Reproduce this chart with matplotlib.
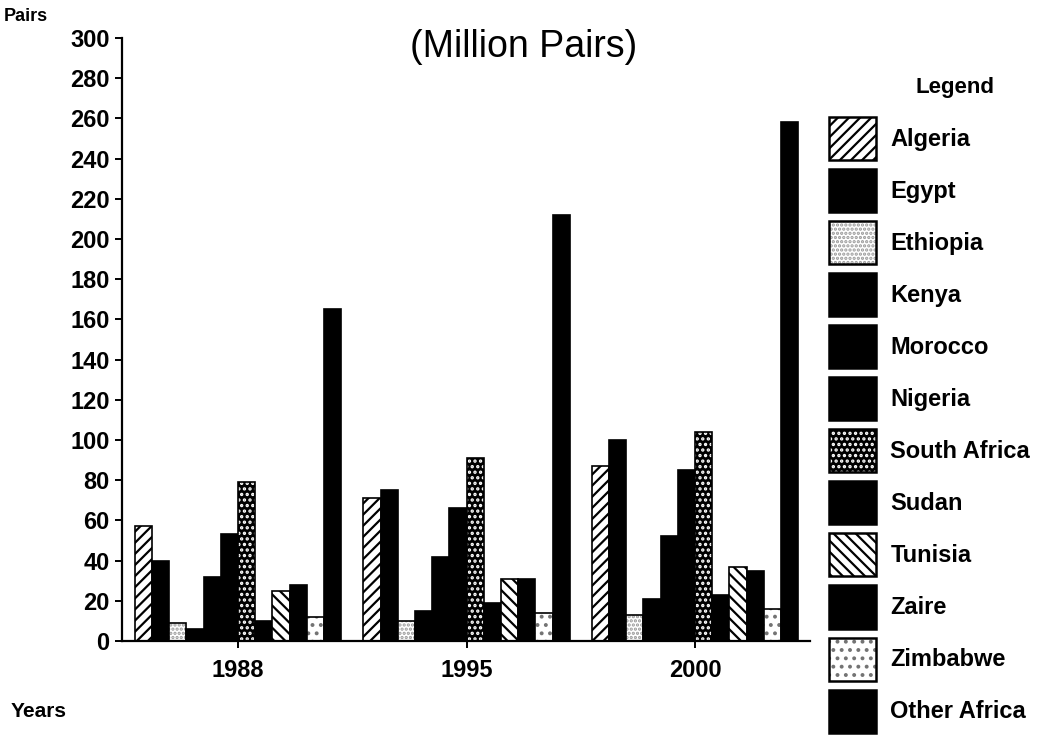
import numpy as np
import matplotlib
matplotlib.use("Agg")
import matplotlib.pyplot as plt
from matplotlib.patches import Patch
from matplotlib.legend_handler import HandlerTuple

plt.rcParams["font.family"] = ["Liberation Sans", "DejaVu Sans"]
plt.rcParams["hatch.linewidth"] = 1.6

years = ["1988", "1995", "2000"]
countries = ["Algeria", "Egypt", "Ethiopia", "Kenya", "Morocco", "Nigeria",
             "South Africa", "Sudan", "Tunisia", "Zaire", "Zimbabwe", "Other Africa"]

# million pairs per country, one list per year
pairs_1988 = [57, 40, 9, 6, 32, 53, 79, 10, 25, 28, 12, 165]
pairs_1995 = [71, 75, 10, 15, 42, 66, 91, 19, 31, 31, 14, 212]
pairs_2000 = [87, 100, 13, 21, 52, 85, 104, 23, 37, 35, 16, 258]

# fill style per country: (face, hatch, hatch colour)
styles = {
    "Algeria": ("white", "///", "black"),
    "Egypt": ("black", None, "black"),
    "Ethiopia": ("white", "....", "0.6"),
    "Kenya": ("black", None, "black"),
    "Morocco": ("black", None, "black"),
    "Nigeria": ("black", None, "black"),
    "South Africa": ("black", "...", "white"),
    "Sudan": ("black", None, "black"),
    "Tunisia": ("white", "\\\\\\", "black"),
    "Zaire": ("black", None, "black"),
    "Zimbabwe": ("white", "..", "0.45"),
    "Other Africa": ("black", None, "black"),
}

data = np.array([pairs_1988, pairs_1995, pairs_2000])
x = np.arange(len(years))
n = len(countries)
width = 0.0753

fig = plt.figure(figsize=(10.37, 7.36), dpi=100)
ax = fig.add_axes([122 / 1037, 95 / 736, 688 / 1037, 603 / 736])

handles = []
for i, c in enumerate(countries):
    face, hatch, hcol = styles[c]
    pos = x + (i - (n - 1) / 2) * width
    ax.bar(pos, data[:, i], width, color=face, edgecolor=hcol, hatch=hatch, linewidth=0)
    ax.bar(pos, data[:, i], width, fill=False, edgecolor="black", linewidth=1.2)
    h1 = Patch(facecolor=face, edgecolor=hcol, hatch=hatch, linewidth=0)
    h2 = Patch(fill=False, edgecolor="black", linewidth=1.8)
    handles.append((h1, h2))

ax.set_xlim(-0.508, 2.503)
ax.set_ylim(0, 300)
ax.set_yticks(np.arange(0, 301, 20))
ax.set_xticks(x)
ax.set_xticklabels(years)
for s in ["top", "right"]:
    ax.spines[s].set_visible(False)
for s in ["left", "bottom"]:
    ax.spines[s].set_linewidth(1.6)
ax.tick_params(axis="both", length=5, width=1.4, labelsize=17)
ax.tick_params(axis="x", pad=8)
ax.tick_params(axis="y", pad=4)
for lab in ax.get_xticklabels() + ax.get_yticklabels():
    lab.set_fontweight("bold")

fig.text(0.505, 0.936, "(Million Pairs)", ha="center", va="center", fontsize=27)
fig.text(0.004, 0.978, "Pairs", ha="left", va="center", fontsize=13, fontweight="bold")
fig.text(0.01, 0.033, "Years", ha="left", va="center", fontsize=15, fontweight="bold")
fig.text(955 / 1037, 1 - 88 / 736, "Legend", ha="center", va="center", fontsize=16, fontweight="bold")

fig.legend(handles, countries, handler_map={tuple: HandlerTuple(ndivide=1)},
           loc="upper left", bbox_to_anchor=(829 / 1037, 1 - 117 / 736),
           frameon=False, borderpad=0, borderaxespad=0,
           handlelength=2.0, handleheight=2.43, labelspacing=0.38, handletextpad=0.6,
           prop={"size": 17, "weight": "bold"})

fig.savefig("out.png", dpi=100)
